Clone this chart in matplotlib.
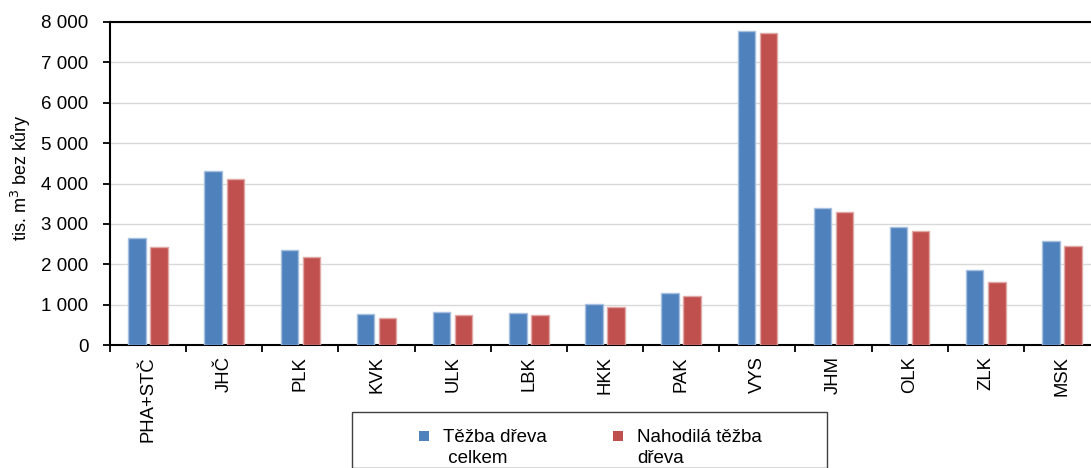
import matplotlib
matplotlib.use("Agg")
import matplotlib.pyplot as plt
import numpy as np
from matplotlib.ticker import FuncFormatter, FixedLocator
from matplotlib.patches import Rectangle

plt.rcParams['font.family'] = ['Liberation Sans', 'DejaVu Sans']

categories = ["PHA+STČ", "JHČ", "PLK", "KVK", "ULK", "LBK", "HKK", "PAK", "VYS", "JHM", "OLK", "ZLK", "MSK"]
tezba_celkem = [2650, 4310, 2360, 770, 820, 790, 1020, 1290, 7780, 3390, 2920, 1850, 2580]
nahodila = [2430, 4120, 2180, 680, 740, 740, 940, 1210, 7730, 3290, 2820, 1570, 2450]
series_lines = [["Těžba dřeva", " celkem"], ["Nahodilá těžba", "dřeva"]]
colors = ["#4F81BD", "#C0504D"]
edge_colors = ["#A7C0DE", "#E0A8A6"]

W, H = 1091, 468
fig = plt.figure(figsize=(W / 100, H / 100), dpi=100)
left, right, top, bottom = 110, 1100, 22, 345
ax = fig.add_axes([left / W, (H - bottom) / H, (right - left) / W, (bottom - top) / H])

x = np.arange(len(categories))
bw = 0.23
ax.bar(x - 0.145, tezba_celkem, bw, color=colors[0], edgecolor=edge_colors[0], linewidth=1, zorder=3)
ax.bar(x + 0.145, nahodila, bw, color=colors[1], edgecolor=edge_colors[1], linewidth=1, zorder=3)

ax.set_xlim(-0.5, len(categories) - 0.5)
ax.set_ylim(0, 8000)
ax.set_yticks(np.arange(0, 8001, 1000))
ax.yaxis.set_major_formatter(FuncFormatter(lambda v, p: f"{int(v):,}".replace(",", " ")))
ax.yaxis.grid(True, color="#D9D9D9", linewidth=1, zorder=0)
ax.set_axisbelow(True)

ax.set_xticks(x)
ax.set_xticklabels(categories, rotation=90, fontsize=13.3)
ax.tick_params(axis='x', which='major', length=0, pad=8)
ax.xaxis.set_minor_locator(FixedLocator(np.arange(-0.5, len(categories), 1)))
ax.tick_params(axis='x', which='minor', length=5, width=1.3, direction='out')
ax.tick_params(axis='y', length=5, width=1.3, direction='out', labelsize=13.5, pad=10.5)

for s in ['left', 'bottom', 'top']:
    ax.spines[s].set_color('black')
    ax.spines[s].set_linewidth(1.5)
ax.spines['right'].set_visible(False)

ax.set_ylabel("tis. m$^3$ bez kůry", fontsize=13)
ax.yaxis.set_label_coords(-0.078, 0.517)

# legend frame
fig.patches.append(Rectangle((352 / W, 0), (827 - 352) / W, (H - 417) / H + 0.01,
                             transform=fig.transFigure, fill=False, edgecolor='#404040', linewidth=1))
for i in range(2):
    mx = [419, 613][i]
    fig.patches.append(Rectangle((mx / W, (H - 441) / H), 10 / W, 10 / H,
                                 transform=fig.transFigure, facecolor=colors[i], edgecolor='none'))
    for j, line in enumerate(series_lines[i]):
        fig.text([443, 637][i] / W, (H - 442 - 21 * j) / H, line, fontsize=13.5,
                 va='baseline', ha='left')

fig.savefig("out.png", dpi=100)
